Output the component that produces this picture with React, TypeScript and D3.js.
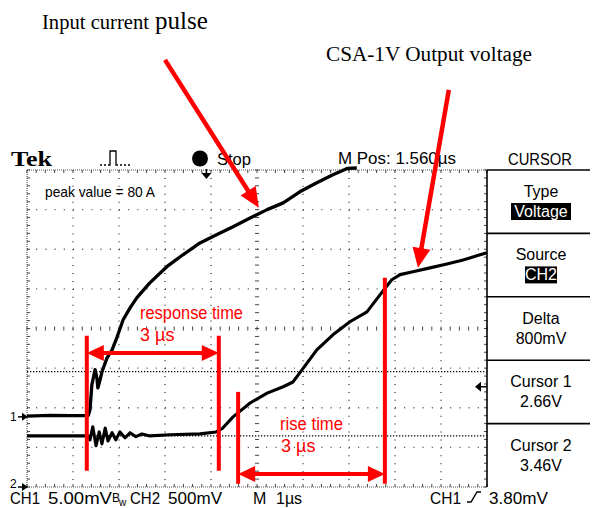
import React from "react";
import * as d3 from "d3";

// time axis: µs from the left edge of the screen (1 µs / div)
// vertical axis: graticule divisions from the centre line
const ch1Time = [0, 0.5, 0.93, 1.33, 1.37, 1.41, 1.48, 1.52, 1.54, 1.59, 1.63, 1.74, 1.85, 1.96, 2.09, 2.24, 2.39, 2.67, 3.04, 3.39, 3.76, 4.13, 4.48, 4.85, 5.22, 5.57, 5.93, 6.3, 6.65, 6.96, 7.17];
const ch1Level = [-2.21, -2.19, -2.2, -2.2, -2.05, -1.42, -1.04, -1.25, -1.5, -1.29, -1.09, -0.74, -0.54, -0.21, 0.22, 0.52, 0.78, 1.15, 1.56, 1.86, 2.16, 2.37, 2.57, 2.79, 3.0, 3.17, 3.45, 3.68, 3.88, 4.04, 4.05];

const ch2Time = [0, 1.33, 1.37, 1.43, 1.5, 1.57, 1.63, 1.7, 1.76, 1.85, 1.93, 2.02, 2.13, 2.24, 2.37, 2.5, 2.67, 3.11, 3.76, 4.11, 4.24, 4.48, 4.85, 5.22, 5.57, 5.78, 5.93, 6.3, 6.65, 7.02, 7.39, 7.74, 7.93, 8.11, 8.39, 8.76, 9.13, 9.48, 9.85, 10];
const ch2Level = [-2.71, -2.71, -2.81, -2.48, -2.96, -2.61, -2.91, -2.51, -2.84, -2.63, -2.81, -2.61, -2.76, -2.63, -2.73, -2.66, -2.71, -2.68, -2.66, -2.61, -2.53, -2.23, -1.88, -1.63, -1.47, -1.35, -1.12, -0.54, -0.16, 0.17, 0.42, 0.95, 1.23, 1.36, 1.43, 1.53, 1.63, 1.73, 1.86, 1.91];

const cursorLevels = [-1.09, -2.71];
const ch1Marker = -2.23;
const ch2Marker = -4;
const triggerLevel = -1.47;
const triggerTime = 3.9;

// red measurement annotations (time, level)
const responseLines = [1.3, 4.17];
const responseSpan = [-0.18, -3.59];
const responseArrowLevel = -0.62;
const riseLines = [4.59, 7.78];
const riseTops = [-1.6, 1.28];
const riseBottom = -3.92;
const riseArrowLevel = -3.67;
// pointer arrows [tailT, tailL, tipT, tipL]
const pointerArrows = [
  [3.0, 6.78, 5.04, 3.05],
  [9.17, 6.02, 8.5, 1.53],
];

const panelTitles = ["Type", "Source", "Delta", "Cursor 1", "Cursor 2"];
const panelValues = ["Voltage", "CH2", "800mV", "2.66V", "3.46V"];
const panelHighlightWidth = [60, 32, 0, 0, 0];

const RED = "#ff0000";
const SANS = "'Liberation Sans', Arial, sans-serif";
const SERIF = "'Liberation Serif', 'Times New Roman', serif";

function Arrow({ x1, y1, x2, y2, len = 18, half = 8, width = 4.5 }) {
  const dx = x2 - x1, dy = y2 - y1;
  const L = Math.hypot(dx, dy);
  const ux = dx / L, uy = dy / L;
  const bx = x2 - ux * len, by = y2 - uy * len;
  const px = -uy * half, py = ux * half;
  return (
    <g>
      <line x1={x1} y1={y1} x2={bx + ux * 2} y2={by + uy * 2} stroke={RED} strokeWidth={width} />
      <polygon points={`${x2},${y2} ${bx + px},${by + py} ${bx - px},${by - py}`} fill={RED} />
    </g>
  );
}

export default function App() {
  const x = d3.scaleLinear().domain([0, 10]).range([27, 487]);
  const y = d3.scaleLinear().domain([-4, 4]).range([487, 170]);
  const x0 = x(0), x1 = x(10), yT = y(4), yB = y(-4);
  const stepY = (yB - yT) / 40;
  const stepX = (x1 - x0) / 50;

  const line = d3
    .line<[number, number]>()
    .x((d) => x(d[0]))
    .y((d) => y(d[1]));
  const ch1 = ch1Time.map((t, i) => [t, ch1Level[i]] as [number, number]);
  const ch2 = ch2Time.map((t, i) => [t, ch2Level[i]] as [number, number]);

  const vGrid = d3.range(1, 10).filter((t) => t !== 5);
  const hGrid = d3.range(-3, 4).filter((l) => l !== 0);
  const yTicks = d3.range(0, 41).map((i) => yT + i * stepY);
  const xTicks = d3.range(0, 51).map((i) => x0 + i * stepX);
  const dotColor = "#444";

  const boxTop = yT;
  const boxH = (yB - yT) / 5;

  return (
    <svg width={592} height={508} style={{ position: "absolute", left: 0, top: 0, background: "#fff" }}>
      <rect x={0} y={0} width={592} height={508} fill="#fff" />

      {/* header annotations */}
      <text x={42} y={29} fontFamily={SERIF} fontSize={20} fill="#000">
        <tspan textLength={107} lengthAdjust="spacingAndGlyphs">Input current</tspan>
        <tspan dx={6} fontSize={25}>pulse</tspan>
      </text>
      <text x={326} y={61} fontFamily={SERIF} fontSize={20} fill="#000" textLength={206} lengthAdjust="spacingAndGlyphs">
        CSA-1V Output voltage
      </text>

      {/* graticule */}
      {vGrid.map((t) => (
        <line key={"v" + t} x1={x(t)} x2={x(t)} y1={yT} y2={yB} stroke={dotColor} strokeWidth={1.4} strokeDasharray={`1 ${stepY - 1}`} />
      ))}
      {hGrid.map((l) => (
        <line key={"h" + l} x1={x0} x2={x1} y1={y(l)} y2={y(l)} stroke={dotColor} strokeWidth={1.4} strokeDasharray={`1 ${stepX - 1}`} />
      ))}
      {/* centre lines */}
      {yTicks.map((yy, i) => (
        <line key={"cv" + i} x1={x(5) - 2} x2={x(5) + 2} y1={yy} y2={yy} stroke={dotColor} strokeWidth={1} />
      ))}
      {xTicks.map((xx, i) => (
        <line key={"ch" + i} x1={xx} x2={xx} y1={y(0) - 2} y2={y(0) + 2} stroke={dotColor} strokeWidth={1} />
      ))}
      {/* frame */}
      <line x1={x0} x2={x1} y1={yT} y2={yT} stroke="#555" strokeWidth={1.2} strokeDasharray="1 1" />
      <line x1={x0} x2={x1} y1={yB} y2={yB} stroke="#555" strokeWidth={1.2} strokeDasharray="1 1" />
      <line x1={x0} x2={x0} y1={yT} y2={yB} stroke="#555" strokeWidth={1.2} strokeDasharray="1 1" />
      {xTicks.map((xx, i) => (
        <g key={"fx" + i}>
          <line x1={xx} x2={xx} y1={yT} y2={yT + 3} stroke={dotColor} strokeWidth={1} />
          <line x1={xx} x2={xx} y1={yB - 3} y2={yB} stroke={dotColor} strokeWidth={1} />
        </g>
      ))}
      {yTicks.map((yy, i) => (
        <g key={"fy" + i}>
          <line x1={x0} x2={x0 + 3} y1={yy} y2={yy} stroke={dotColor} strokeWidth={1} />
          <line x1={x1 - 3} x2={x1} y1={yy} y2={yy} stroke={dotColor} strokeWidth={1} />
        </g>
      ))}
      <line x1={x1} x2={x1} y1={yT} y2={yB} stroke="#000" strokeWidth={1.6} />

      {/* cursors */}
      {cursorLevels.map((l, i) => (
        <line key={"cur" + i} x1={x0} x2={x1} y1={y(l)} y2={y(l)} stroke="#000" strokeWidth={1.3} strokeDasharray="1.3 1.7" />
      ))}

      {/* traces */}
      <path d={line(ch1) || ""} fill="none" stroke="#000" strokeWidth={3.3} strokeLinejoin="round" />
      <path d={line(ch2) || ""} fill="none" stroke="#000" strokeWidth={3.1} strokeLinejoin="round" />

      {/* scope screen labels */}
      <text x={45} y={197} fontFamily={SANS} fontSize={15} fill="#000" textLength={110} lengthAdjust="spacingAndGlyphs">
        peak value = 80 A
      </text>
      <text x={11} y={166} fontFamily={SERIF} fontWeight="bold" fontSize={21} fill="#000" textLength={41} lengthAdjust="spacingAndGlyphs">
        Tek
      </text>
      <path d="M100,165 H102 M104,165 H106 M108,165 H110 V151 H116 V165 H118 M120,165 H122 M124,165 H126 M128,165 H130" fill="none" stroke="#000" strokeWidth={1.3} />
      <circle cx={200} cy={158.5} r={8} fill="#000" />
      <text x={217} y={165} fontFamily={SANS} fontSize={16} fill="#000" textLength={34} lengthAdjust="spacingAndGlyphs">Stop</text>
      <text x={338} y={164} fontFamily={SANS} fontSize={16} fill="#000" textLength={118} lengthAdjust="spacingAndGlyphs">M Pos: 1.560µs</text>
      <text x={508} y={165} fontFamily={SANS} fontSize={16} fill="#000" textLength={64} lengthAdjust="spacingAndGlyphs">CURSOR</text>

      {/* trigger position marker */}
      <g>
        <line x1={x(triggerTime)} x2={x(triggerTime)} y1={yT - 1} y2={yT + 5} stroke="#000" strokeWidth={1.5} />
        <polygon points={`${x(triggerTime) - 5},${yT + 3} ${x(triggerTime) + 5},${yT + 3} ${x(triggerTime)},${yT + 9}`} fill="#000" />
      </g>
      {/* trigger level marker */}
      <g>
        <polygon points={`${x1 - 12},${y(triggerLevel)} ${x1 - 6},${y(triggerLevel) - 5} ${x1 - 6},${y(triggerLevel) + 5}`} fill="#000" />
        <line x1={x1 - 8} x2={x1} y1={y(triggerLevel)} y2={y(triggerLevel)} stroke="#000" strokeWidth={1.5} />
      </g>
      {/* channel ground markers */}
      {[
        ["1", ch1Marker, 4],
        ["2", ch2Marker, 1],
      ].map(([lab, l, off]) => (
        <g key={"m" + lab}>
          <text x={10} y={y(l as number) + (off as number)} fontFamily={SANS} fontSize={12} fill="#000">{lab}</text>
          <line x1={18} x2={x0} y1={y(l as number)} y2={y(l as number)} stroke="#000" strokeWidth={1.5} />
          <polygon points={`${x0 + 1},${y(l as number)} ${x0 - 5},${y(l as number) - 4} ${x0 - 5},${y(l as number) + 4}`} fill="#000" />
        </g>
      ))}

      {/* right menu panel */}
      {d3.range(0, 5).map((i) => (
        <line key={"sep" + i} x1={x1} x2={590} y1={boxTop + i * boxH} y2={boxTop + i * boxH} stroke="#000" strokeWidth={1.6} />
      ))}
      {panelTitles.map((t, i) => {
        const top = boxTop + i * boxH;
        const w = panelHighlightWidth[i];
        return (
          <g key={"p" + i}>
            <text x={541} y={top + 27} fontFamily={SANS} fontSize={16} fill="#000" textAnchor="middle">{t}</text>
            {w > 0 && <rect x={541 - w / 2} y={top + 33} width={w} height={17} fill="#000" />}
            <text x={541} y={top + 47} fontFamily={SANS} fontSize={16} fill={w > 0 ? "#fff" : "#000"} textAnchor="middle">{panelValues[i]}</text>
          </g>
        );
      })}

      {/* bottom status line */}
      <g fontFamily={SANS} fontSize={16} fill="#000">
        <text x={10} y={504} textLength={30} lengthAdjust="spacingAndGlyphs">CH1</text>
        <text x={48} y={504} textLength={64} lengthAdjust="spacingAndGlyphs">5.00mV</text>
        <text x={112} y={502} fontSize={12}>B</text>
        <text x={119} y={506} fontSize={10}>w</text>
        <text x={130} y={504} textLength={30} lengthAdjust="spacingAndGlyphs">CH2</text>
        <text x={168} y={504} textLength={54} lengthAdjust="spacingAndGlyphs">500mV</text>
        <text x={253} y={504}>M</text>
        <text x={276} y={504}>1µs</text>
        <text x={430} y={504} textLength={31} lengthAdjust="spacingAndGlyphs">CH1</text>
        <text x={489} y={504} textLength={59} lengthAdjust="spacingAndGlyphs">3.80mV</text>
      </g>
      <path d="M467,502 H471 L477,492 H481" fill="none" stroke="#000" strokeWidth={1.4} />

      {/* red measurement overlays */}
      {responseLines.map((t, i) => (
        <line key={"rl" + i} x1={x(t)} x2={x(t)} y1={y(responseSpan[0])} y2={y(responseSpan[1])} stroke={RED} strokeWidth={4} />
      ))}
      <line x1={x(responseLines[0]) + 12} x2={x(responseLines[1]) - 12} y1={y(responseArrowLevel)} y2={y(responseArrowLevel)} stroke={RED} strokeWidth={4} />
      <polygon points={`${x(responseLines[0])},${y(responseArrowLevel)} ${x(responseLines[0]) + 17},${y(responseArrowLevel) - 8} ${x(responseLines[0]) + 17},${y(responseArrowLevel) + 8}`} fill={RED} />
      <polygon points={`${x(responseLines[1])},${y(responseArrowLevel)} ${x(responseLines[1]) - 17},${y(responseArrowLevel) - 8} ${x(responseLines[1]) - 17},${y(responseArrowLevel) + 8}`} fill={RED} />
      <text x={140} y={319} fontFamily={SANS} fontSize={18} fill={RED} textLength={103} lengthAdjust="spacingAndGlyphs">response time</text>
      <text x={140} y={341} fontFamily={SANS} fontSize={18} fill={RED}>3 µs</text>

      {riseLines.map((t, i) => (
        <line key={"ri" + i} x1={x(t)} x2={x(t)} y1={y(riseTops[i])} y2={y(riseBottom)} stroke={RED} strokeWidth={4} />
      ))}
      <line x1={x(riseLines[0]) + 12} x2={x(riseLines[1]) - 12} y1={y(riseArrowLevel)} y2={y(riseArrowLevel)} stroke={RED} strokeWidth={4} />
      <polygon points={`${x(riseLines[0])},${y(riseArrowLevel)} ${x(riseLines[0]) + 17},${y(riseArrowLevel) - 8} ${x(riseLines[0]) + 17},${y(riseArrowLevel) + 8}`} fill={RED} />
      <polygon points={`${x(riseLines[1])},${y(riseArrowLevel)} ${x(riseLines[1]) - 17},${y(riseArrowLevel) - 8} ${x(riseLines[1]) - 17},${y(riseArrowLevel) + 8}`} fill={RED} />
      <text x={280} y={430} fontFamily={SANS} fontSize={18} fill={RED} textLength={63} lengthAdjust="spacingAndGlyphs">rise time</text>
      <text x={281} y={452} fontFamily={SANS} fontSize={18} fill={RED}>3 µs</text>

      {pointerArrows.map((a, i) => (
        <Arrow key={"pa" + i} x1={x(a[0])} y1={y(a[1])} x2={x(a[2])} y2={y(a[3])} len={20} half={9} width={4.5} />
      ))}
    </svg>
  );
}
